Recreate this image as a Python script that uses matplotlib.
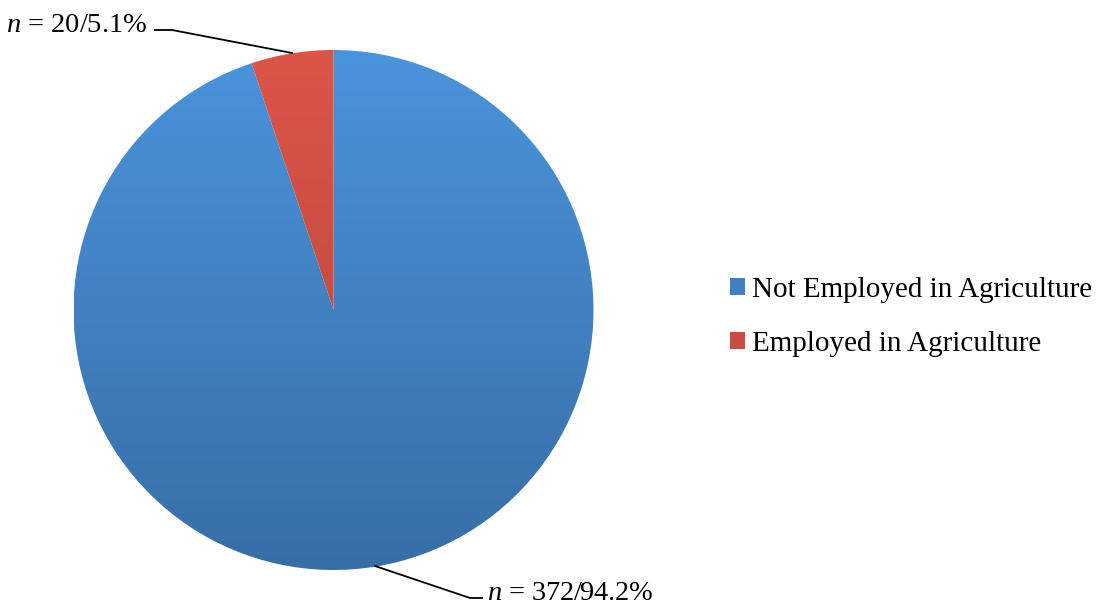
import numpy as np
import matplotlib.pyplot as plt
from matplotlib.colors import LinearSegmentedColormap
from matplotlib.patches import Patch

labels = ["Not Employed in Agriculture", "Employed in Agriculture"]
counts = [372, 20]
label_text = ["372/94.2%", "20/5.1%"]
top_colors = ["#4b93dc", "#dc5549"]
bottom_colors = ["#386ea6", "#b4443a"]

plt.rcParams['font.family'] = ['Liberation Serif', 'DejaVu Serif']
plt.rcParams['mathtext.fontset'] = 'custom'
plt.rcParams['mathtext.rm'] = 'Liberation Serif'
plt.rcParams['mathtext.it'] = 'Liberation Serif:italic'

fig = plt.figure(figsize=(11.06, 6.09), dpi=100)
W, H = 1106, 609
cx, cy, r = 333.5, 310, 260
ax = fig.add_axes([(cx - r) / W, (H - cy - r) / H, 2 * r / W, 2 * r / H])

wedges, _ = ax.pie(counts, startangle=90, counterclock=False, radius=1,
                   wedgeprops=dict(linewidth=0))
ax.set_xlim(-1, 1)
ax.set_ylim(-1, 1)
ax.set_aspect('equal')
ax.axis('off')

grad = np.linspace(0, 1, 256).reshape(-1, 1)
for w, c0, c1 in zip(wedges, top_colors, bottom_colors):
    w.set_facecolor('none')
    cmap = LinearSegmentedColormap.from_list('g', [c0, c1])
    im = ax.imshow(grad, cmap=cmap, extent=[-1, 1, -1, 1], origin='upper',
                   aspect='auto', zorder=1)
    im.set_clip_path(w)

def px(x, y):
    return (x - cx) / r, (cy - y) / r

# leader for small slice
pts = [px(155, 30), px(172, 30), px(292, 53)]
ax.plot([p[0] for p in pts], [p[1] for p in pts], color='black', lw=1.3,
        clip_on=False, zorder=3)
tx, ty = px(147, 26)
ax.text(tx, ty, r"$n$ = " + label_text[1], ha='right', va='center',
        fontsize=20.5, clip_on=False)

# leader for large slice
pts = [px(375, 566), px(470, 598), px(482, 598)]
ax.plot([p[0] for p in pts], [p[1] for p in pts], color='black', lw=1.3,
        clip_on=False, zorder=3)
tx, ty = px(487, 594)
ax.text(tx, ty, r"$n$ = " + label_text[0], ha='left', va='center',
        fontsize=20.5, clip_on=False)

handles = [Patch(facecolor=c, edgecolor='none') for c in ["#4380c3", "#c84c42"]]
fig.legend(handles, labels, loc='center left', bbox_to_anchor=(704 / W, 1 - 317 / H),
           frameon=False, fontsize=21, handlelength=0.5, handleheight=0.5,
           handletextpad=0.25, labelspacing=0.95)

fig.savefig('out.png', dpi=100)
